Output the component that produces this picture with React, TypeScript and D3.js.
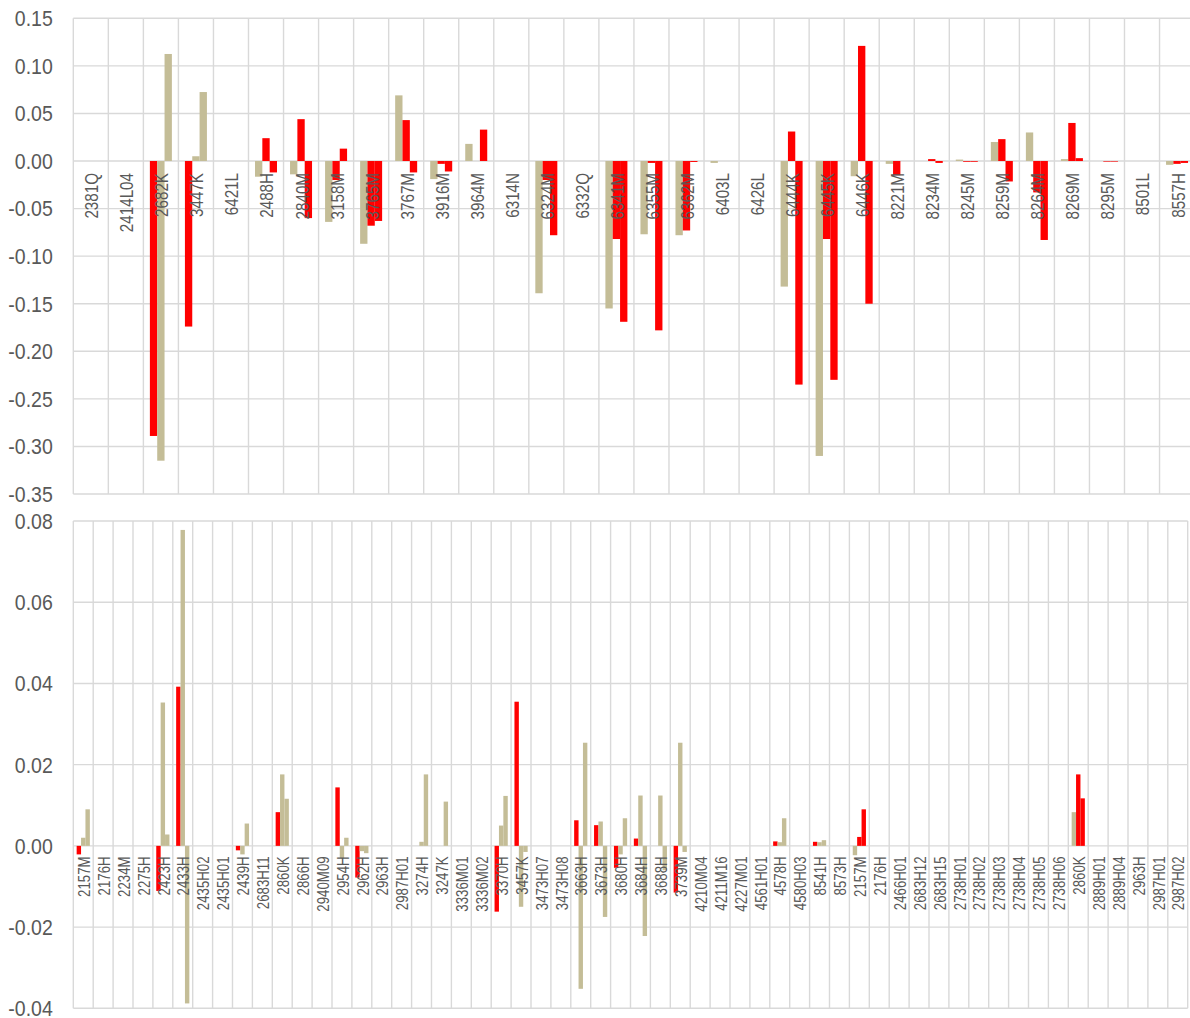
import React from 'react';
import * as d3 from 'd3';

// ---------- Top panel data ----------
const topCategories = [
  '2381Q', '2414L04', '2682K', '3447K', '6421L', '2488H', '2840M', '3158M',
  '3765M', '3767M', '3916M', '3964M', '6314N', '6324M', '6332Q', '6341M',
  '6355M', '6362M', '6403L', '6426L', '6444K', '6445K', '6446K', '8221M',
  '8234M', '8245M', '8259M', '8264M', '8269M', '8295M', '8501L', '8557H',
];
const topScheme = [
  'A', 'A', 'A', 'A', 'A', 'B', 'B', 'B', 'B', 'B', 'B', 'B', 'B', 'B', 'B', 'B',
  'B', 'B', 'B', 'B', 'B', 'B', 'B', 'B', 'B', 'B', 'B', 'B', 'B', 'B', 'B', 'B',
];
const topSeries1 = [
  0, 0, -0.289, -0.174, 0, -0.0165, -0.014, -0.064,
  -0.087, 0.069, -0.019, 0.018, 0, -0.139, 0, -0.155,
  -0.077, -0.078, -0.002, 0, -0.132, -0.31, -0.016, -0.003,
  0, 0.0015, 0.02, 0.03, 0.002, 0, 0, -0.004,
];
const topSeries2 = [
  0, 0, -0.315, 0.005, 0, 0.024, 0.044, -0.02,
  -0.068, 0.043, -0.003, 0, 0, -0.02, 0, -0.082,
  -0.002, -0.073, 0, 0, 0.031, -0.082, 0.121, -0.015,
  0.002, -0.0008, 0.023, -0.033, 0.04, -0.0006, 0, -0.003,
];
const topSeries3 = [
  0, 0, 0.1125, 0.0725, 0, -0.012, -0.06, 0.013,
  -0.063, -0.012, -0.011, 0.033, 0, -0.078, 0, -0.169,
  -0.178, -0.001, 0, 0, -0.235, -0.23, -0.15, 0,
  -0.002, -0.0008, -0.0215, -0.083, 0.003, -0.0006, 0, -0.002,
];
const topTicks = [0.15, 0.1, 0.05, 0, -0.05, -0.1, -0.15, -0.2, -0.25, -0.3, -0.35];

// ---------- Bottom panel data ----------
const bottomCategories = [
  '2157M', '2176H', '2234M', '2275H', '2423H', '2433H', '2435H02', '2435H01',
  '2439H', '2683H11', '2860K', '2866H', '2940M09', '2954H', '2962H', '2963H',
  '2987H01', '3274H', '3247K', '3336M01', '3336M02', '3370H', '3457K', '3473H07',
  '3473H08', '3663H', '3673H', '3680H', '3684H', '3688H', '3739M', '4210M04',
  '4211M16', '4227M01', '4561H01', '4578H', '4580H03', '8541H', '8573H', '2157M',
  '2176H', '2466H01', '2683H12', '2683H15', '2738H01', '2738H02', '2738H03', '2738H04',
  '2738H05', '2738H06', '2860K', '2889H01', '2889H04', '2963H', '2987H01', '2987H02',
];
const bottomScheme = [
  'A', 'A', 'A', 'A', 'A', 'A', 'A', 'A', 'A', 'A', 'A', 'A', 'A', 'A', 'A', 'A',
  'A', 'A', 'A', 'A', 'A', 'A', 'A', 'A', 'A', 'A', 'A', 'A', 'A', 'A', 'A', 'A',
  'A', 'A', 'A', 'A', 'A', 'A', 'A', 'B', 'B', 'B', 'B', 'B', 'B', 'B', 'B', 'B',
  'B', 'B', 'B', 'B', 'B', 'B', 'B', 'B',
];
const bottomSeries1 = [
  -0.0021, 0, 0, 0, -0.0111, 0.0392, 0, 0,
  -0.0011, 0, 0.0083, 0, 0, 0.0144, -0.0078, 0,
  0, 0, 0, 0, 0, -0.0162, 0.0355, 0,
  0, 0.0063, 0.0051, -0.0054, 0.0018, 0, -0.0115, 0,
  0, 0, 0, 0.0011, 0, 0.001, 0, -0.0023,
  0, 0, 0, 0, 0, 0, 0, 0,
  0, 0, 0.0083, 0, 0, 0, 0, 0,
];
const bottomSeries2 = [
  0.002, 0, 0, 0, 0.0353, 0.0778, 0, 0,
  -0.0021, 0, 0.0176, 0, 0, -0.003, -0.0013, 0,
  0, 0.001, 0, 0, 0, 0.005, -0.015, 0,
  0, -0.0352, 0.006, -0.0021, 0.0124, 0.0124, 0.0254, 0,
  0, 0, 0, 0.0009, 0, 0.0009, 0, 0.0022,
  0, 0, 0, 0, 0, 0, 0, 0,
  0, 0, 0.0176, 0, 0, 0, 0, 0,
];
const bottomSeries3 = [
  0.009, 0, 0, 0, 0.0028, -0.0388, 0, 0,
  0.0055, 0, 0.0116, 0, 0, 0.002, -0.0018, 0,
  0, 0.0176, 0.0109, 0, 0, 0.0123, -0.0015, 0,
  0, 0.0254, -0.0175, 0.0068, -0.0222, -0.006, -0.0015, 0,
  0, 0, 0, 0.0068, 0, 0.0014, 0, 0.009,
  0, 0, 0, 0, 0, 0, 0, 0,
  0, 0, 0.0117, 0, 0, 0, 0, 0,
];
const bottomTicks = [0.08, 0.06, 0.04, 0.02, 0, -0.02, -0.04];

// ---------- Styling ----------
const RED = '#ff0000';
const TAN = '#c4bd97';
const GRID = '#d9d9d9';
const TEXT = '#595959';
const FONT = '"Liberation Sans", Arial, sans-serif';
const schemeColors: Record<string, string[]> = {
  A: [RED, TAN, TAN],
  B: [TAN, RED, RED],
};

type PanelProps = {
  cats: string[];
  series: number[][];
  schemes: string[];
  ticks: number[];
  left: number;
  right: number;
  top: number;
  bottom: number;
  barStart: number; // fraction of band where bars start
  barEnd: number;
  labelSize: number;
  labelScale: number;
  labelGap: number;
};

function fmt(v: number) {
  const s = Math.abs(v).toFixed(2);
  return (v < -1e-9 ? '-' : '') + s;
}

function Panel(p: PanelProps) {
  const n = p.cats.length;
  const idx = d3.range(n);
  const x = d3.scaleBand<number>().domain(idx).range([p.left, p.right]).padding(0);
  const bw = x.bandwidth();
  const xi = d3
    .scaleBand<number>()
    .domain([0, 1, 2])
    .range([bw * p.barStart, bw * p.barEnd])
    .padding(0);
  const y = d3
    .scaleLinear()
    .domain([d3.min(p.ticks)!, d3.max(p.ticks)!])
    .range([p.bottom, p.top]);
  const y0 = y(0);

  return (
    <g>
      {/* horizontal gridlines */}
      {p.ticks.map((t) => (
        <line key={'h' + t} x1={p.left} x2={p.right} y1={y(t)} y2={y(t)} stroke={GRID} strokeWidth={1.4} />
      ))}
      {/* vertical gridlines */}
      {d3.range(n + 1).map((i) => {
        const xx = p.left + i * bw;
        return <line key={'v' + i} x1={xx} x2={xx} y1={p.top} y2={p.bottom} stroke={GRID} strokeWidth={1.4} />;
      })}
      {/* bars */}
      {idx.map((i) =>
        p.series.map((s, k) => {
          const v = s[i];
          if (!v) return null;
          const yv = y(v);
          return (
            <rect
              key={`b${i}-${k}`}
              x={x(i)! + xi(k)!}
              width={xi.bandwidth()}
              y={Math.min(yv, y0)}
              height={Math.max(0.6, Math.abs(yv - y0))}
              fill={schemeColors[p.schemes[i]][k]}
            />
          );
        })
      )}
      {/* y labels */}
      {p.ticks.map((t) => (
        <text
          key={'t' + t}
          transform={`translate(${p.left - 20.5},${y(t)}) scale(1,1.15)`}
          textAnchor="end"
          dy="0.35em"
          fontSize={19.5}
          fontFamily={FONT}
          fill={TEXT}
        >
          {fmt(t)}
        </text>
      ))}
      {/* category labels */}
      {idx.map((i) => (
        <text
          key={'c' + i}
          transform={`translate(${x(i)! + bw / 2 + 0.8},${y0 + p.labelGap}) rotate(-90) scale(${p.labelScale},1)`}
          textAnchor="end"
          dy="0.35em"
          fontSize={p.labelSize}
          fontFamily={FONT}
          fill={TEXT}
        >
          {p.cats[i]}
        </text>
      ))}
    </g>
  );
}

export default function App() {
  return (
    <svg
      width={1190}
      height={1018}
      style={{ position: 'absolute', left: 0, top: 0, background: '#fff' }}
    >
      <rect width={1190} height={1018} fill="#fff" />
      <Panel
        cats={topCategories}
        series={[topSeries1, topSeries2, topSeries3]}
        schemes={topScheme}
        ticks={topTicks}
        left={73.3}
        right={73.3 + 32 * 35.04}
        top={18.3}
        bottom={494}
        barStart={6.5 / 35.04}
        barEnd={28.5 / 35.04}
        labelSize={19}
        labelScale={0.8}
        labelGap={12}
      />
      <Panel
        cats={bottomCategories}
        series={[bottomSeries1, bottomSeries2, bottomSeries3]}
        schemes={bottomScheme}
        ticks={bottomTicks}
        left={73.3}
        right={73.3 + 56 * 19.9}
        top={521}
        bottom={1008.3}
        barStart={3.35 / 19.9}
        barEnd={16.55 / 19.9}
        labelSize={16.8}
        labelScale={0.79}
        labelGap={10.5}
      />
    </svg>
  );
}
